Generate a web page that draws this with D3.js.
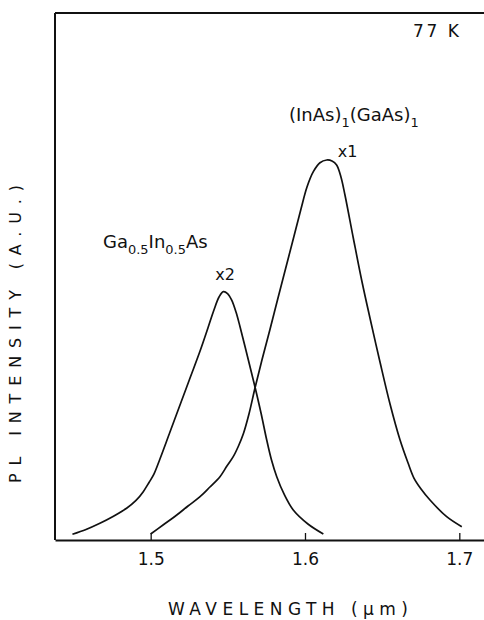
<!DOCTYPE html>
<html>
<head>
<meta charset="utf-8">
<script src="https://cdn.jsdelivr.net/npm/d3@7"></script>
<style>
  body { margin: 0; background: #fff; }
  svg { display: block; }
  text { font-family: "DejaVu Sans", sans-serif; fill: #111; }
</style>
</head>
<body>
<svg id="chart" width="484" height="620"></svg>
<script>
// PL spectrum of bulk Ga0.5In0.5As (drawn x2)
const gaInAsWavelength = [1.4493, 1.4581, 1.4671, 1.4756, 1.4844, 1.4905, 1.4952, 1.4989, 1.5021, 1.5060,
                          1.5125, 1.5190, 1.5255, 1.5320, 1.5371, 1.5410, 1.5443, 1.5471, 1.5498, 1.5525,
                          1.5553, 1.5579, 1.5633, 1.5676, 1.5715, 1.5752, 1.5783, 1.5817, 1.5864, 1.5924,
                          1.6019, 1.6119];
const gaInAsIntensity  = [1.08, 1.99, 3.17, 4.46, 6.02, 7.50, 9.17, 10.90, 12.50, 15.37,
                          20.49, 25.62, 30.74, 35.86, 40.23, 43.64, 46.11, 47.12, 46.77, 45.54,
                          43.26, 40.47, 34.16, 29.03, 24.10, 18.98, 15.18, 12.01, 8.73, 5.69,
                          3.04, 1.14];

// PL spectrum of the (InAs)1(GaAs)1 short-period superlattice (drawn x1)
const superlatticeWavelength = [1.5000, 1.5080, 1.5169, 1.5242, 1.5320, 1.5384, 1.5449, 1.5494, 1.5535, 1.5569,
                                1.5600, 1.5637, 1.5676, 1.5721, 1.5773, 1.5825, 1.5877, 1.5929, 1.5974, 1.6013,
                                1.6054, 1.6097, 1.6141, 1.6175, 1.6205, 1.6233, 1.6259, 1.6313, 1.6367, 1.6421,
                                1.6486, 1.6551, 1.6616, 1.6668, 1.6706, 1.6752, 1.6810, 1.6918, 1.7016];
const superlatticeIntensity  = [1.14, 2.85, 4.74, 6.45, 8.22, 10.06, 12.01, 14.04, 15.81, 17.84,
                                20.11, 23.91, 28.84, 34.16, 39.94, 45.92, 51.80, 57.69, 62.81, 66.98,
                                69.89, 71.59, 72.11, 71.92, 71.16, 68.88, 65.46, 57.31, 49.34, 42.13,
                                33.78, 25.81, 18.98, 14.61, 11.76, 9.68, 7.59, 4.42, 2.52];

const xTickValues = [1.5, 1.6, 1.7];
const xTickLabels = ["1.5", "1.6", "1.7"];

const svg = d3.select("#chart");
const W = 484, H = 620;
const plotLeft = 55, plotTop = 13, plotBottom = 540;

const x = d3.scaleLinear().domain([1.438, 1.716]).range([plotLeft, W]);
const y = d3.scaleLinear().domain([0, 100]).range([plotBottom, plotTop]);

// frame: top and left edges
svg.append("line").attr("x1", plotLeft).attr("x2", W).attr("y1", plotTop).attr("y2", plotTop)
  .attr("stroke", "#111").attr("stroke-width", 2);
svg.append("line").attr("x1", plotLeft).attr("x2", plotLeft).attr("y1", plotTop).attr("y2", plotBottom)
  .attr("stroke", "#111").attr("stroke-width", 2);

// bottom axis with inward ticks
const xAxis = d3.axisBottom(x)
  .tickValues(xTickValues)
  .tickFormat((d, i) => xTickLabels[i])
  .tickSizeInner(-7)
  .tickSizeOuter(0)
  .tickPadding(13);
const gx = svg.append("g").attr("transform", `translate(0,${plotBottom})`).call(xAxis);
gx.select(".domain").attr("stroke", "#111").attr("stroke-width", 2);
gx.selectAll(".tick line").attr("stroke", "#111").attr("stroke-width", 1.3);
gx.selectAll(".tick text").attr("font-size", 17).attr("font-family", "DejaVu Sans, sans-serif").attr("fill", "#111");

// spectra
const line = d3.line().x(d => x(d[0])).y(d => y(d[1])).curve(d3.curveCatmullRom.alpha(0.5));
const gaInAs = d3.zip(gaInAsWavelength, gaInAsIntensity);
const superlattice = d3.zip(superlatticeWavelength, superlatticeIntensity);

[gaInAs, superlattice].forEach(s => {
  svg.append("path").datum(s).attr("d", line)
    .attr("fill", "none").attr("stroke", "#111").attr("stroke-width", 1.7);
});

// axis titles
svg.append("text")
  .attr("x", (168 + 408) / 2).attr("y", 615)
  .attr("text-anchor", "middle").attr("font-size", 17)
  .attr("textLength", 240).attr("lengthAdjust", "spacing")
  .text("WAVELENGTH  (μm)");

svg.append("text")
  .attr("transform", "translate(21,334) rotate(-90)")
  .attr("text-anchor", "middle").attr("font-size", 16)
  .attr("textLength", 298).attr("lengthAdjust", "spacing")
  .text("PL INTENSITY  (A.U.)");

// temperature
svg.append("text").attr("x", 413).attr("y", 37).attr("font-size", 17)
  .attr("textLength", 46).attr("lengthAdjust", "spacing").text("77 K");

// curve labels
const peakA = gaInAs[d3.maxIndex(gaInAsIntensity)];
const peakB = superlattice[d3.maxIndex(superlatticeIntensity)];

svg.append("text").attr("x", x(peakA[0]) - 8).attr("y", y(peakA[1]) - 12)
  .attr("font-size", 16).text("x2");
svg.append("text").attr("x", x(peakB[0]) + 11).attr("y", y(peakB[1]) - 3)
  .attr("font-size", 16).text("x1");

function formula(parts, px, py, size) {
  const t = svg.append("text").attr("x", px).attr("y", py).attr("font-size", size);
  let shifted = false;
  parts.forEach(p => {
    const s = t.append("tspan").text(p.t);
    if (p.sub && !shifted) { s.attr("dy", size * 0.35).attr("font-size", size * 0.72); shifted = true; }
    else if (p.sub) { s.attr("font-size", size * 0.72); }
    else if (shifted) { s.attr("dy", -size * 0.35); shifted = false; }
  });
  return t;
}

formula([{t: "Ga"}, {t: "0.5", sub: true}, {t: "In"}, {t: "0.5", sub: true}, {t: "As"}], 103, 248, 18);
formula([{t: "(InAs)"}, {t: "1", sub: true}, {t: "(GaAs)"}, {t: "1", sub: true}], 289, 121, 18);
</script>
</body>
</html>
